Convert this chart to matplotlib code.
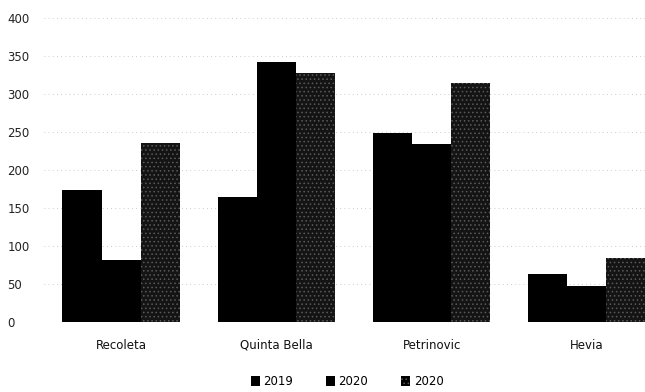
import matplotlib
matplotlib.use("Agg")
import matplotlib.pyplot as plt
import numpy as np

categories = ["Recoleta", "Quinta Bella", "Petrinovic", "Hevia"]
series_labels = ["2019", "2020", "2020"]
values_2019 = [174, 164, 249, 63]
values_2020a = [82, 342, 234, 47]
values_2020b = [235, 328, 314, 84]
y_ticks = [0, 50, 100, 150, 200, 250, 300, 350, 400]

plt.rcParams['font.family'] = ['DejaVu Sans']
plt.rcParams['hatch.linewidth'] = 0.6

fig = plt.figure(figsize=(6.45, 3.92), dpi=100)
ax = fig.add_axes([43.5 / 645, 70 / 392, 621 / 645, 304 / 392])

x = np.arange(len(categories))
w = 0.252
ax.bar(x - w, values_2019, w, color="#000000", label=series_labels[0], zorder=3)
ax.bar(x, values_2020a, w, color="#000000", label=series_labels[1], zorder=3)
ax.bar(x + w, values_2020b, w, facecolor="#141414", edgecolor="#5a5a5a",
       hatch="....", linewidth=0, label=series_labels[2], zorder=3)

ax.set_xlim(-0.5, 3.5)
ax.set_ylim(0, 400)
ax.set_yticks(y_ticks)
ax.set_yticklabels([str(v) for v in y_ticks])
ax.set_xticks(x)
ax.set_xticklabels(categories)
for lab in ax.get_yticklabels():
    lab.set_horizontalalignment('left')
ax.tick_params(axis='y', length=0, pad=26, labelsize=8.5, colors="#222222")
ax.tick_params(axis='x', length=0, pad=12, labelsize=8.5, colors="#111111")
ax.grid(axis='y', linestyle=(0, (1, 4)), color="#bbbbbb", linewidth=0.6, zorder=0)
for s in ax.spines.values():
    s.set_visible(False)

leg = ax.legend(loc='center', bbox_to_anchor=(0.489, -0.195),
                ncol=3, frameon=False, fontsize=8.5, handlelength=0.75, handleheight=0.9,
                handletextpad=0.3, columnspacing=2.8, borderpad=0.1)
for h in leg.legend_handles:
    h.set_facecolor("#000000")

fig.savefig("out.png", dpi=100)
